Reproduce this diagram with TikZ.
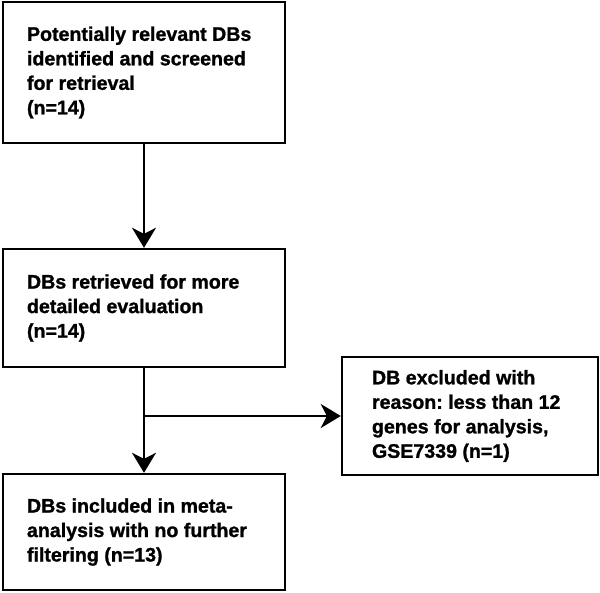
\documentclass[tikz,border=0pt]{standalone}
\usepackage{fontspec}
\setmainfont{Liberation Sans}[BoldFeatures={FakeBold=1.2}]
\usetikzlibrary{arrows.meta}
\frenchspacing
\begin{document}
\begin{tikzpicture}[x=1pt,y=-1pt,
  box/.style={draw=black, line width=2.4pt, rectangle, inner sep=0pt},
  txt/.style={anchor=west, align=left, inner sep=0pt,
    font=\fontsize{19.6pt}{24.5pt}\selectfont\bfseries},
  arr/.style={line width=2.4pt, -{Stealth[length=20pt,width=24pt,inset=6pt]}},
  ln/.style={line width=2.4pt}]
\useasboundingbox (0,0) rectangle (600,592);
\node[box, minimum width=282pt, minimum height=141pt] (b1) at (144,72.5) {};
\node[txt] (t1) at ([xshift=25pt]b1.west) {Potentially relevant DBs\\identified and screened\\for retrieval\\(n=14)};
\node[box, minimum width=282pt, minimum height=118pt] (b2) at (144,308) {};
\node[txt] (t2) at ([xshift=25pt]b2.west) {DBs retrieved for more\\detailed evaluation\\(n=14)};
\node[box, minimum width=282pt, minimum height=116pt] (b3) at (144,532) {};
\node[txt] (t3) at ([xshift=25pt]b3.west) {DBs included in meta-\\analysis with no further\\filtering (n=13)};
\node[box, minimum width=256pt, minimum height=118pt] (ex) at (470,416) {};
\node[txt] (t4) at ([xshift=31pt]ex.west) {DB excluded with\\reason: less than 12\\genes for analysis,\\GSE7339 (n=1)};
\draw[arr] (b1.south) -- (b2.north);
\draw[arr] (b2.south) -- (b3.north);
\coordinate (br) at (b2.south |- ex.west);
\draw[arr] (br) -- (ex.west);
\end{tikzpicture}
\end{document}
